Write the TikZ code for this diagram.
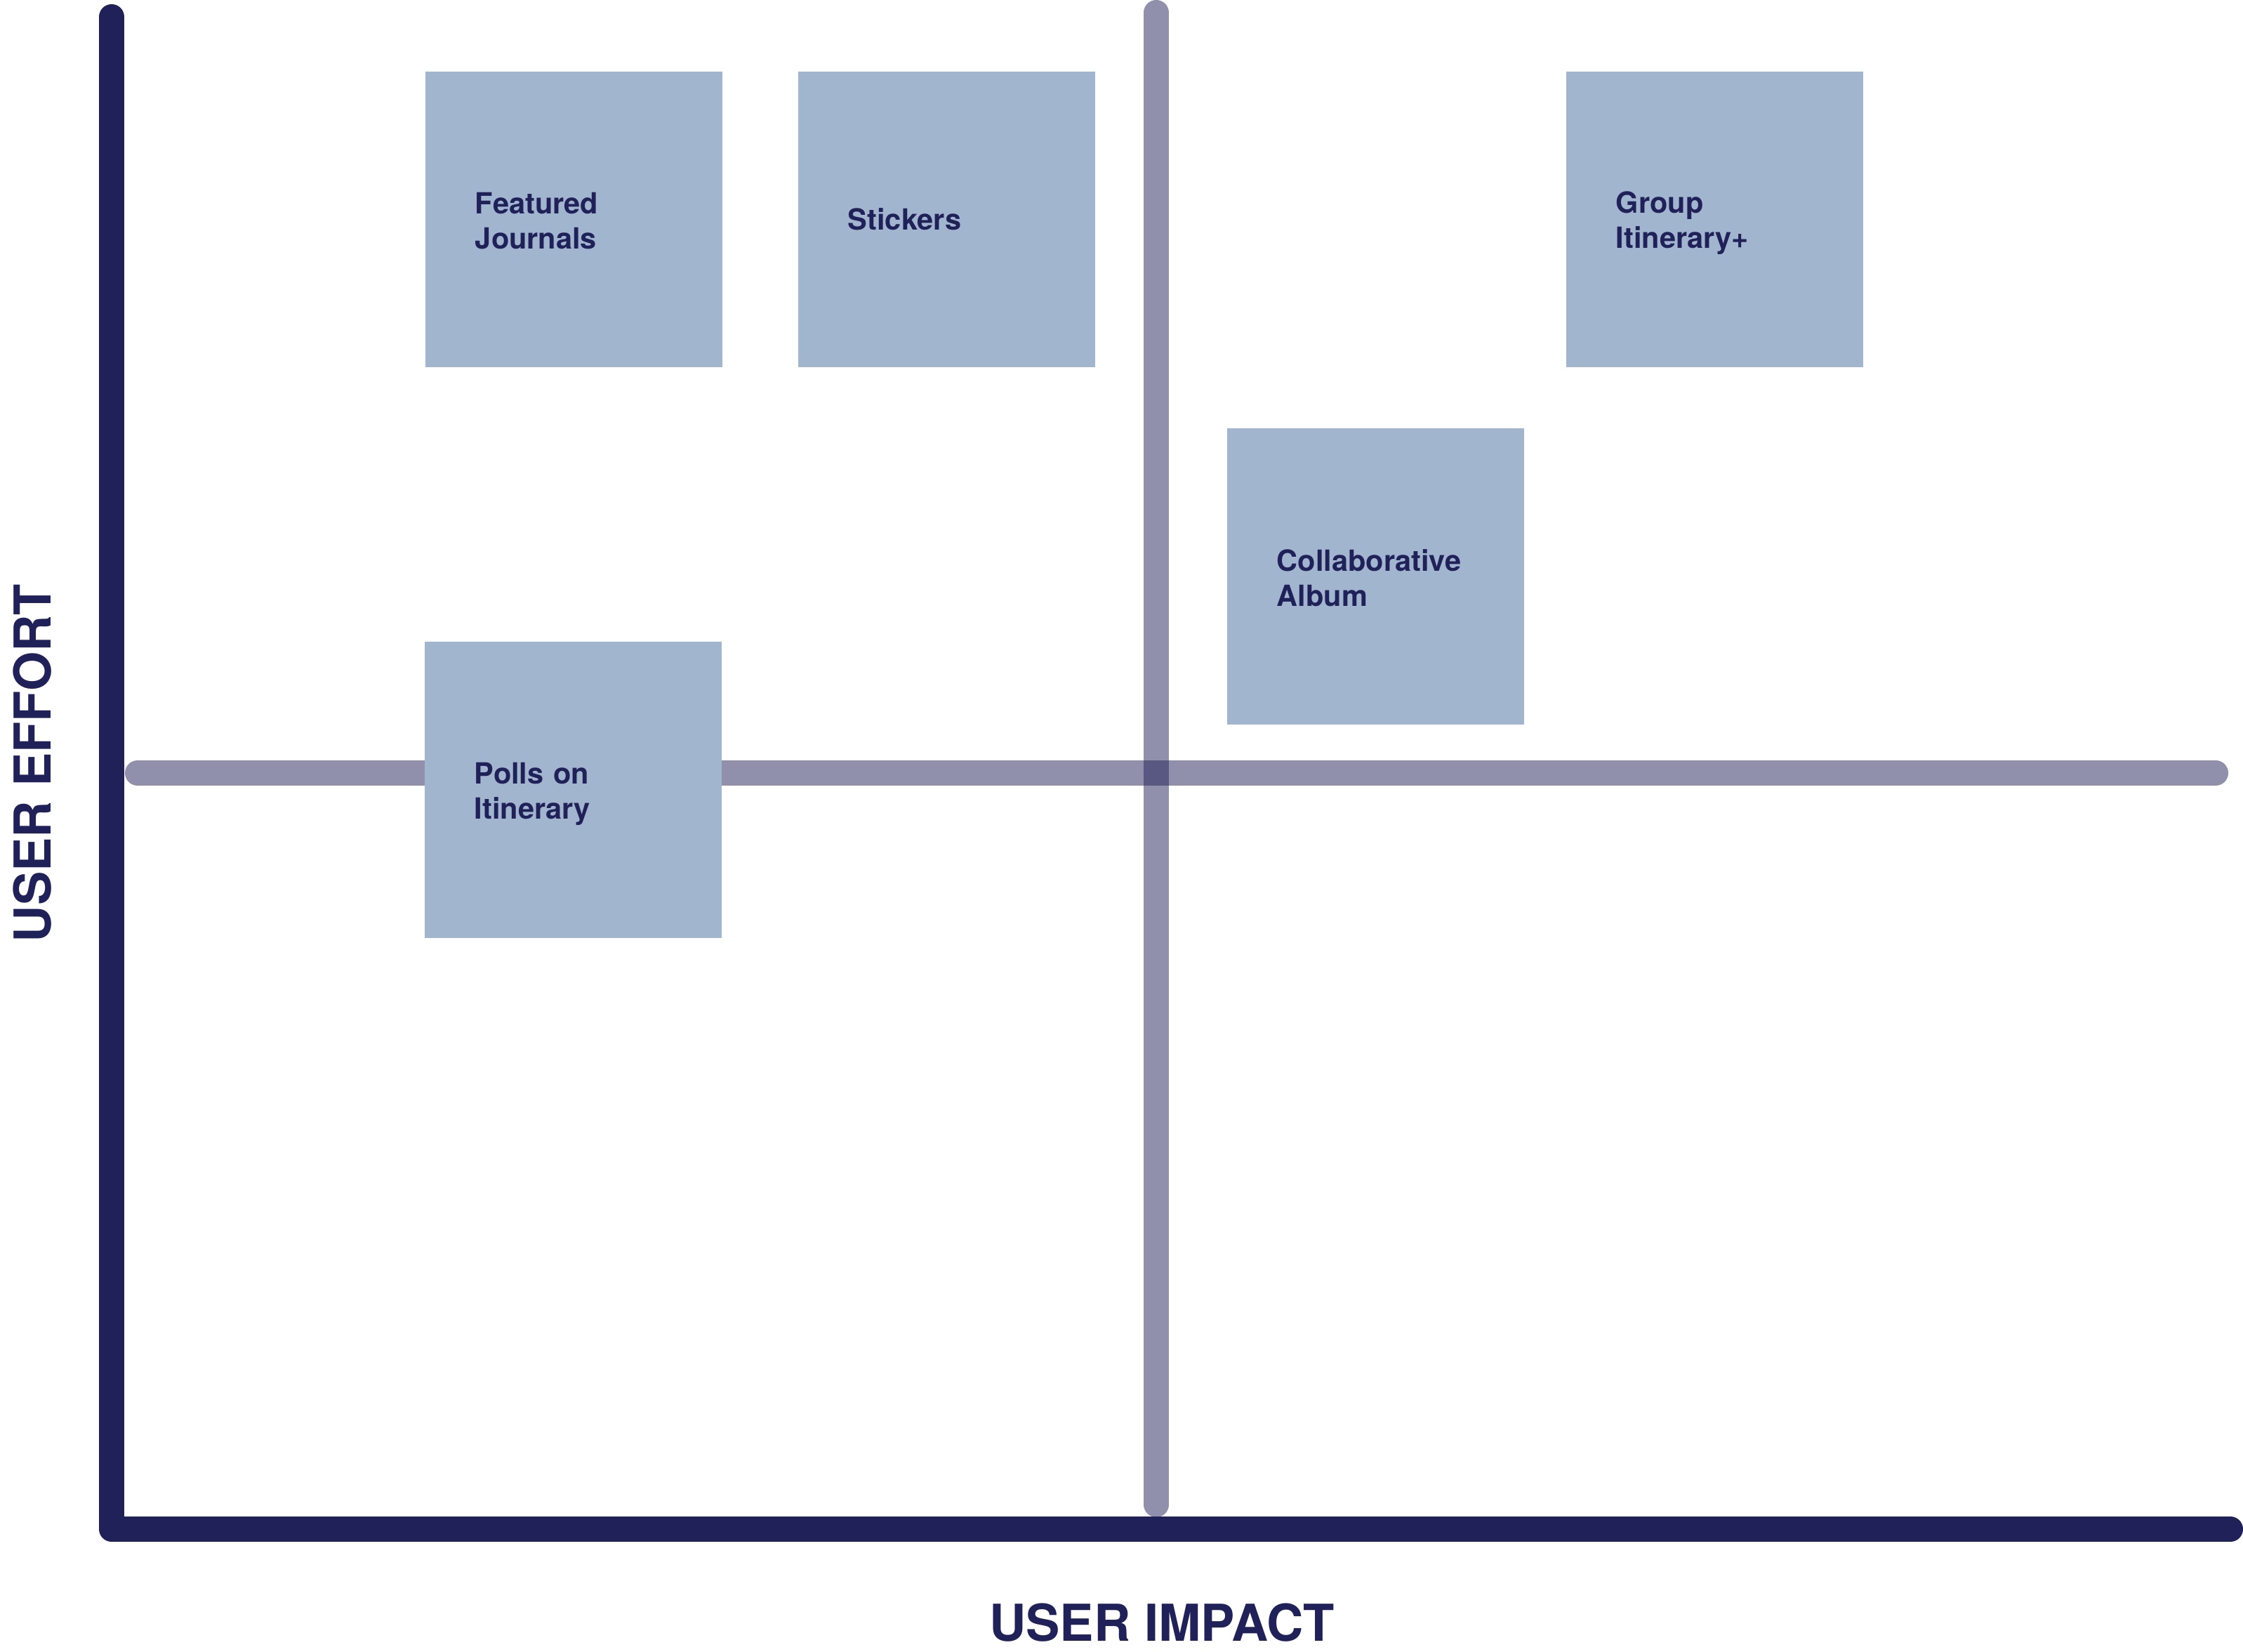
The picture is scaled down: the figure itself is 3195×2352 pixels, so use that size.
\documentclass[tikz,border=0pt]{standalone}
\usepackage{fontspec}
\setmainfont{TeX Gyre Heros}
\definecolor{navy}{RGB}{33,33,89}
\definecolor{boxblue}{RGB}{161,181,206}
\begin{document}
\begin{tikzpicture}[x=0.01cm,y=-0.01cm,
  axisline/.style={draw=navy, line width=0.36cm, line cap=round, line join=round},
  divider/.style={draw=navy, draw opacity=0.5, line width=0.36cm, line cap=round},
  item/.style={fill=boxblue, minimum width=4.23cm, minimum height=4.21cm, text width=2.81cm, inner xsep=0.71cm, inner ysep=0pt, align=left, text=navy, font=\fontsize{11.8}{14.2}\selectfont\bfseries},
  axislabel/.style={text=navy, font=\fontsize{20.6}{24}\selectfont\bfseries, inner sep=0pt}]
\useasboundingbox (0,0) rectangle (3195,2352);
% axes
\coordinate (ytop) at (159,24);
\coordinate (origin) at (159,2178);
\coordinate (xend) at (3177,2178);
\draw[axisline] (ytop) -- (origin) -- (xend);
% dividers
\coordinate (vtop) at (1647,18);
\coordinate (vbot) at (1647,2143);
\coordinate (hleft) at (196,1101);
\coordinate (hright) at (3156,1101);
\draw[divider] (vtop) -- (vbot);
\draw[divider] (hleft) -- (hright);
% items (box outlines)
\node[item] (fj) at (817.5,312.5) {};
\node[item] (st) at (1348.5,312.5) {};
\node[item] (gi) at (2442.5,312.5) {};
\node[item] (ca) at (1959.5,821) {};
\node[item] (po) at (816.5,1125) {};
% item texts
\node[item, fill=none, anchor=center] (fjt) at ([yshift=-0.02cm]fj.center) {Featured\\Journals};
\node[item, fill=none, anchor=center] (stt) at (st.center) {Stickers};
\node[item, fill=none, anchor=center] (git) at ([yshift=-0.055cm]gi.center) {Group\\Itinerary+};
\node[item, fill=none, anchor=center] (cat) at ([yshift=-0.02cm]ca.center) {Collaborative\\Album};
\node[item, fill=none, anchor=center] (pot) at ([yshift=-0.06cm]po.center) {Polls on\\Itinerary};
% axis labels
\node[axislabel] (xlabel) at (1655,2311) {USER IMPACT};
\node[axislabel, rotate=90] (ylabel) at (46,1087) {USER EFFORT};
\end{tikzpicture}
\end{document}
